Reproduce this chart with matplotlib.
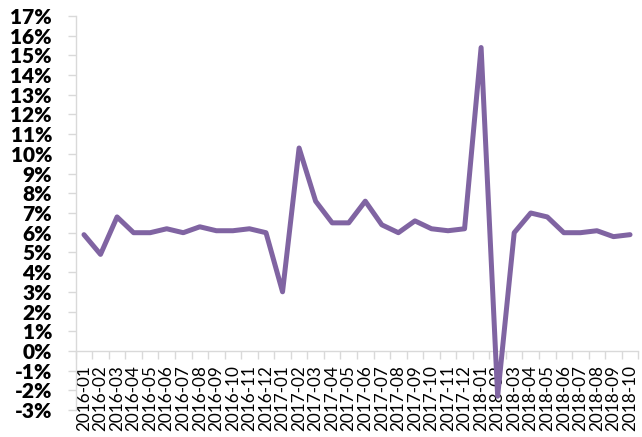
import matplotlib
matplotlib.use("Agg")
import matplotlib.pyplot as plt
import numpy as np
from matplotlib.ticker import FuncFormatter, FixedLocator

# Monthly growth rate, %
months = [
    "2016-01", "2016-02", "2016-03", "2016-04", "2016-05", "2016-06",
    "2016-07", "2016-08", "2016-09", "2016-10", "2016-11", "2016-12",
    "2017-01", "2017-02", "2017-03", "2017-04", "2017-05", "2017-06",
    "2017-07", "2017-08", "2017-09", "2017-10", "2017-11", "2017-12",
    "2018-01", "2018-02", "2018-03", "2018-04", "2018-05", "2018-06",
    "2018-07", "2018-08", "2018-09", "2018-10",
]
growth = [
    5.9, 4.9, 6.8, 6.0, 6.0, 6.2, 6.0, 6.3, 6.1, 6.1, 6.2, 6.0,
    3.0, 10.3, 7.6, 6.5, 6.5, 7.6, 6.4, 6.0, 6.6, 6.2, 6.1, 6.2,
    15.4, -2.3, 6.0, 7.0, 6.8, 6.0, 6.0, 6.1, 5.8, 5.9,
]

LINE = "#8064A2"
AXIS = "#D9D9D9"

fig = plt.figure(figsize=(6.42, 4.37), dpi=100)
fig.patch.set_facecolor("white")
ax = fig.add_axes([75.7 / 642, 27 / 437, (638.3 - 75.7) / 642, 394 / 437])

x = np.arange(len(months))
ax.plot(x, growth, color=LINE, linewidth=3.6,
        solid_joinstyle="round", solid_capstyle="round", zorder=3)

ax.set_xlim(-0.5, len(months) - 0.5)
ax.set_ylim(-3, 17)

# y axis: 1% steps, bold labels
ax.yaxis.set_major_locator(FixedLocator(np.arange(-3, 18, 1)))
ax.yaxis.set_major_formatter(FuncFormatter(lambda v, _: f"{v:.0f}%"))
ax.tick_params(axis="y", length=6, width=1, color=AXIS, pad=11)
for lbl in ax.get_yticklabels():
    lbl.set_fontfamily("Lato")
    lbl.set_fontweight("heavy")
    lbl.set_fontsize(15)
    lbl.set_color("black")

# category axis sits at zero, tick marks between categories
ax.spines["bottom"].set_position(("data", 0))
ax.set_xticks(x)
ax.set_xticklabels(months, rotation=90, fontfamily="Lato", fontsize=12.3)
ax.set_xticks(np.arange(-0.5, len(months), 1), minor=True)
ax.tick_params(axis="x", which="major", length=0, pad=10)
ax.tick_params(axis="x", which="minor", length=6, width=1, color=AXIS)

for side in ("top", "right"):
    ax.spines[side].set_visible(False)
for side in ("left", "bottom"):
    ax.spines[side].set_color(AXIS)
    ax.spines[side].set_linewidth(1)

fig.savefig("out.png", dpi=100)
